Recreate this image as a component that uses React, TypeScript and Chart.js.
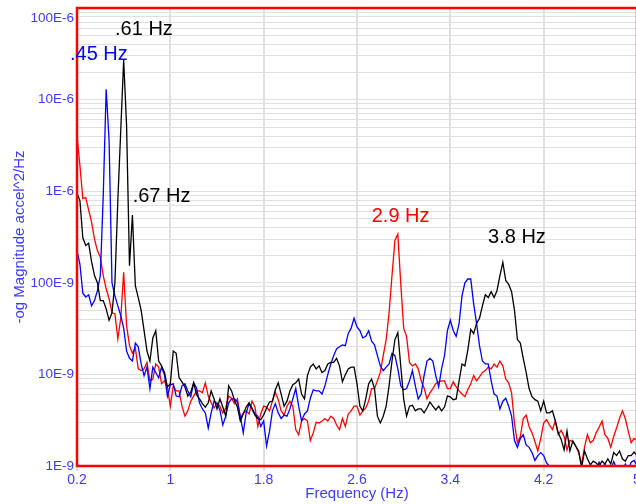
import { useEffect, useRef } from "react";
import { Chart, registerables } from "chart.js";

Chart.register(...registerables);

const freqHz = [
  0.2, 0.225, 0.25, 0.275, 0.3, 0.325, 0.35, 0.375, 0.4, 0.425,
  0.45, 0.475, 0.5, 0.525, 0.55, 0.575, 0.6, 0.625, 0.65, 0.675,
  0.7, 0.725, 0.75, 0.775, 0.8, 0.825, 0.85, 0.875, 0.9, 0.925,
  0.95, 0.975, 1, 1.025, 1.05, 1.075, 1.1, 1.125, 1.15, 1.175,
  1.2, 1.225, 1.25, 1.275, 1.3, 1.325, 1.35, 1.375, 1.4, 1.425,
  1.45, 1.475, 1.5, 1.525, 1.55, 1.575, 1.6, 1.625, 1.65, 1.675,
  1.7, 1.725, 1.75, 1.775, 1.8, 1.825, 1.85, 1.875, 1.9, 1.925,
  1.95, 1.975, 2, 2.025, 2.05, 2.075, 2.1, 2.125, 2.15, 2.175,
  2.2, 2.225, 2.25, 2.275, 2.3, 2.325, 2.35, 2.375, 2.4, 2.425,
  2.45, 2.475, 2.5, 2.525, 2.55, 2.575, 2.6, 2.625, 2.65, 2.675,
  2.7, 2.725, 2.75, 2.775, 2.8, 2.825, 2.85, 2.875, 2.9, 2.925,
  2.95, 2.975, 3, 3.025, 3.05, 3.075, 3.1, 3.125, 3.15, 3.175,
  3.2, 3.225, 3.25, 3.275, 3.3, 3.325, 3.35, 3.375, 3.4, 3.425,
  3.45, 3.475, 3.5, 3.525, 3.55, 3.575, 3.6, 3.625, 3.65, 3.675,
  3.7, 3.725, 3.75, 3.775, 3.8, 3.825, 3.85, 3.875, 3.9, 3.925,
  3.95, 3.975, 4, 4.025, 4.05, 4.075, 4.1, 4.125, 4.15, 4.175,
  4.2, 4.225, 4.25, 4.275, 4.3, 4.325, 4.35, 4.375, 4.4, 4.425,
  4.45, 4.475, 4.5, 4.525, 4.55, 4.575, 4.6, 4.625, 4.65, 4.675,
  4.7, 4.725, 4.75, 4.775, 4.8, 4.825, 4.85, 4.875, 4.9, 4.925,
  4.95, 4.975, 5,
];

const blueSeries = [
  2.25e-7, 1.6e-7, 7.7e-8, 7e-8, 7.4e-8, 5.6e-8, 6.4e-8, 8.2e-8, 1.2e-7, 9e-7,
  1.3e-5, 3.6e-6, 1e-7, 7.2e-8, 5.6e-8, 4.4e-8, 3.2e-8, 1.8e-8, 1.5e-8, 1.4e-8,
  2.2e-8, 2e-8, 1.3e-8, 9.7e-9, 1.2e-8, 7e-9, 1.2e-8, 1.05e-8, 9.2e-9, 1.2e-8,
  9.9e-9, 5.8e-9, 7.7e-9, 7.9e-9, 5.8e-9, 5.7e-9, 7.5e-9, 7.9e-9, 6.6e-9, 5.7e-9,
  8.1e-9, 7.1e-9, 4.9e-9, 4.2e-9, 3.8e-9, 2.6e-9, 3.8e-9, 5.1e-9, 4.8e-9, 4.1e-9,
  2.8e-9, 3.5e-9, 4.9e-9, 5.4e-9, 5.4e-9, 5e-9, 3.5e-9, 2.3e-9, 3.8e-9, 4.8e-9,
  4.3e-9, 3.7e-9, 3.5e-9, 2.7e-9, 3.1e-9, 1.65e-9, 2.4e-9, 4e-9, 4.8e-9, 3.8e-9,
  3.3e-9, 3.6e-9, 3.5e-9, 4.2e-9, 5.4e-9, 7e-9, 4.5e-9, 3.1e-9, 3.7e-9, 4e-9,
  5.5e-9, 6.8e-9, 6.6e-9, 6.6e-9, 6.1e-9, 7.5e-9, 1e-8, 1.3e-8, 1.6e-8, 1.9e-8,
  2e-8, 2.1e-8, 2.06e-8, 2.8e-8, 3.2e-8, 4.1e-8, 3.3e-8, 3e-8, 2.5e-8, 2.6e-8,
  3e-8, 2.3e-8, 2.1e-8, 1.6e-8, 1.24e-8, 1.1e-8, 1.2e-8, 1.3e-8, 1.7e-8, 1.6e-8,
  1.15e-8, 7.5e-9, 6.8e-9, 7e-9, 8.5e-9, 1.1e-8, 7.5e-9, 5.4e-9, 6.1e-9, 9.7e-9,
  1.4e-8, 1.5e-8, 1.4e-8, 9.7e-9, 7.3e-9, 1.15e-8, 1.6e-8, 3e-8, 3.9e-8, 3e-8,
  2.6e-8, 3.6e-8, 7.2e-8, 1e-7, 1.1e-7, 1.1e-7, 5.9e-8, 3.6e-8, 2.06e-8, 1.4e-8,
  1.3e-8, 1.3e-8, 8.5e-9, 6.1e-9, 5.8e-9, 4.2e-9, 5.1e-9, 5.5e-9, 4.5e-9, 3.5e-9,
  1.9e-9, 1.6e-9, 2e-9, 2.2e-9, 1.7e-9, 1.6e-9, 1.4e-9, 1.15e-9, 1.3e-9, 1.4e-9,
  1.3e-9, 1.08e-9, 1e-9, 9.5e-10, 9.7e-10, 8.5e-10, 9e-10, 8e-10, 9.5e-10, 8e-10,
  8.5e-10, 7.5e-10, 8e-10, 9e-10, 8e-10, 7.5e-10, 8.5e-10, 8e-10, 9e-10, 1.1e-9,
  9.5e-10, 1.05e-9, 8.5e-10, 9e-10, 1.12e-9, 9.5e-10, 8.5e-10, 9e-10, 1.05e-9, 9e-10,
  1.1e-9, 1.15e-9, 1e-9,
];

const blackSeries = [
  9.5e-7, 7.9e-7, 3.1e-7, 2.55e-7, 2.7e-7, 1.7e-7, 1.2e-7, 1e-7, 6.4e-8, 6.4e-8,
  5.2e-8, 3.9e-8, 4.7e-8, 1e-7, 7.9e-7, 4.6e-6, 2.7e-5, 5.2e-6, 1.54e-7, 5.5e-7,
  9.3e-8, 6.9e-8, 5e-8, 3e-8, 1.8e-8, 1.4e-8, 2.5e-8, 3e-8, 1.4e-8, 1.24e-8,
  1.05e-8, 7.3e-9, 7.9e-9, 1.8e-8, 1.7e-8, 9.2e-9, 8.3e-9, 7.3e-9, 5.8e-9, 6.4e-9,
  8.1e-9, 6e-9, 5.4e-9, 4.8e-9, 4.4e-9, 4.9e-9, 6.6e-9, 5.4e-9, 4.2e-9, 5.4e-9,
  4.4e-9, 3.5e-9, 7.5e-9, 6.6e-9, 5.2e-9, 4.4e-9, 3.1e-9, 3.7e-9, 4.4e-9, 4.9e-9,
  4.2e-9, 3.6e-9, 3.3e-9, 3.2e-9, 3.6e-9, 4.3e-9, 5e-9, 5.1e-9, 6.8e-9, 8.1e-9,
  6.1e-9, 4.5e-9, 5.1e-9, 6.6e-9, 7.7e-9, 8.1e-9, 8.9e-9, 6.1e-9, 5.4e-9, 9.7e-9,
  1.2e-8, 1.3e-8, 1.15e-8, 1.24e-8, 1.05e-8, 1.1e-8, 1.3e-8, 1.35e-8, 1.35e-8, 1.5e-8,
  1.24e-8, 8.3e-9, 9.9e-9, 1.15e-8, 1.2e-8, 1.2e-8, 7.9e-9, 4.5e-9, 4e-9, 5.4e-9,
  7.9e-9, 8.9e-9, 7e-9, 3.5e-9, 2.95e-9, 3.5e-9, 4.5e-9, 7.5e-9, 1.4e-8, 2.4e-8,
  2.85e-8, 1.24e-8, 5.4e-9, 3.5e-9, 4.5e-9, 4.6e-9, 4e-9, 4.2e-9, 4.2e-9, 3.8e-9,
  4.3e-9, 5e-9, 4.5e-9, 4.1e-9, 4.5e-9, 4e-9, 4.4e-9, 5.8e-9, 5.7e-9, 5.3e-9,
  5.4e-9, 8.5e-9, 1.3e-8, 1.24e-8, 1.85e-8, 3.1e-8, 2.8e-8, 3.6e-8, 4.1e-8, 5.6e-8,
  7.4e-8, 6.9e-8, 8e-8, 6.9e-8, 8.2e-8, 1.2e-7, 1.67e-7, 1.06e-7, 9.6e-8, 8e-8,
  5e-8, 2.4e-8, 2.2e-8, 1.5e-8, 1.05e-8, 7e-9, 5.7e-9, 5.3e-9, 5.1e-9, 4e-9,
  5.1e-9, 3.8e-9, 3.8e-9, 4e-9, 3.1e-9, 2.3e-9, 1.95e-9, 1.5e-9, 2.4e-9, 1.46e-9,
  1.88e-9, 1.65e-9, 1.46e-9, 9.5e-10, 1.46e-9, 1.2e-9, 1.03e-9, 1.13e-9, 1.08e-9, 1e-9,
  1.13e-9, 1.05e-9, 1.2e-9, 1.05e-9, 1.4e-9, 1.3e-9, 1.46e-9, 1.2e-9, 1.13e-9, 1.3e-9,
  1.3e-9, 1.42e-9, 1.3e-9,
];

const redSeries = [
  4.1e-6, 1.9e-6, 8.3e-7, 8.5e-7, 6.2e-7, 4.6e-7, 3e-7, 2.25e-7, 1.9e-7, 1.2e-7,
  8.6e-8, 6.7e-8, 4.7e-8, 4.6e-8, 2.45e-8, 4.1e-8, 1.3e-7, 3.4e-8, 2.06e-8, 1.7e-8,
  1.95e-8, 1.15e-8, 1.1e-8, 1.15e-8, 1.35e-8, 8.5e-9, 8.9e-9, 1.3e-8, 1.2e-8, 7.9e-9,
  8.5e-9, 7.1e-9, 4.5e-9, 7.5e-9, 6.6e-9, 6.6e-9, 4.5e-9, 3.5e-9, 4e-9, 5.1e-9,
  5.8e-9, 6.6e-9, 6.6e-9, 6.3e-9, 8.1e-9, 5.8e-9, 4.9e-9, 4.3e-9, 4.9e-9, 4.5e-9,
  3.8e-9, 4.3e-9, 5.8e-9, 5.5e-9, 4.8e-9, 5.4e-9, 3.3e-9, 3.8e-9, 4e-9, 3.7e-9,
  5.1e-9, 4.4e-9, 2.7e-9, 3.7e-9, 4.5e-9, 4.4e-9, 4e-9, 5.1e-9, 6.4e-9, 5.3e-9,
  4e-9, 3.6e-9, 4.5e-9, 5.1e-9, 4.5e-9, 2.5e-9, 2.2e-9, 3.1e-9, 3.3e-9, 3.1e-9,
  1.9e-9, 2.3e-9, 3e-9, 2.95e-9, 3.1e-9, 3.3e-9, 3.1e-9, 3.5e-9, 3.3e-9, 2.8e-9,
  2.5e-9, 3.3e-9, 2.7e-9, 3.7e-9, 4e-9, 4.5e-9, 4.5e-9, 3.6e-9, 4e-9, 4.3e-9,
  5.1e-9, 7e-9, 7e-9, 8.5e-9, 1.05e-8, 1.6e-8, 2.4e-8, 4.7e-8, 1.2e-7, 2.9e-7,
  3.4e-7, 9.8e-8, 3.2e-8, 2.6e-8, 1.35e-8, 1.24e-8, 1.3e-8, 1.15e-8, 8.5e-9, 7.1e-9,
  5.4e-9, 6.3e-9, 7e-9, 7.9e-9, 8.3e-9, 8.5e-9, 8.5e-9, 7e-9, 7e-9, 8.3e-9,
  7.3e-9, 6.6e-9, 6.1e-9, 5.7e-9, 6.8e-9, 7.9e-9, 9.7e-9, 8.5e-9, 9.4e-9, 1.05e-8,
  1.1e-8, 1.2e-8, 1.15e-8, 1.3e-8, 1.2e-8, 1.4e-8, 1.24e-8, 8.9e-9, 8.1e-9, 6.3e-9,
  2.9e-9, 1.8e-9, 2.1e-9, 3.3e-9, 3.6e-9, 2.7e-9, 2.3e-9, 1.85e-9, 1.46e-9, 2e-9,
  2.95e-9, 3.2e-9, 2.8e-9, 2.5e-9, 3.1e-9, 2.2e-9, 2.45e-9, 2.1e-9, 1.5e-9, 1.9e-9,
  1.85e-9, 1.65e-9, 1.4e-9, 1.05e-9, 1.6e-9, 2.2e-9, 1.8e-9, 1.9e-9, 2.3e-9, 2.65e-9,
  3.1e-9, 2.2e-9, 2e-9, 1.6e-9, 2.1e-9, 2.6e-9, 3.3e-9, 4e-9, 3.3e-9, 2.4e-9,
  1.8e-9, 2e-9, 1.9e-9,
];

const xTickValues = [0.2, 1, 1.8, 2.6, 3.4, 4.2, 5];
const xTickLabels = ["0.2", "1", "1.8", "2.6", "3.4", "4.2", "5"];
const yTickValues = [1e-9, 1e-8, 1e-7, 1e-6, 1e-5, 1e-4];
const yTickLabels = ["1E-9", "10E-9", "100E-9", "1E-6", "10E-6", "100E-6"];
const yMinorMultipliers = [1, 2, 3, 4, 5, 6, 7, 8, 9];

const peakLabels = [
  { text: ".45 Hz", x: 0.14, y: 2.7e-5, color: "#0000ff" },
  { text: ".61 Hz", x: 0.526, y: 5.1e-5, color: "#000000" },
  { text: ".67 Hz", x: 0.677, y: 7.6e-7, color: "#000000" },
  { text: "2.9 Hz", x: 2.726, y: 4.6e-7, color: "#ff0000" },
  { text: "3.8 Hz", x: 3.723, y: 2.7e-7, color: "#000000" },
];

const FONT = '"Liberation Sans", Arial, Helvetica, sans-serif';
const AXIS_BLUE = "#3c3cff";
const GRID = "#e0e0e0";

const framePlugin = {
  id: "framePlugin",
  afterDatasetsDraw(chart: any) {
    const { ctx, chartArea, scales } = chart;
    ctx.save();
    ctx.strokeStyle = "#ff0000";
    ctx.lineWidth = 2.5;
    ctx.strokeRect(
      chartArea.left,
      chartArea.top,
      chartArea.right - chartArea.left,
      chartArea.bottom - chartArea.top
    );
    ctx.font = `13.5px ${FONT}`;
    ctx.fillStyle = AXIS_BLUE;
    ctx.textAlign = "right";
    ctx.textBaseline = "middle";
    yTickValues.forEach((v, i) => {
      let y = scales.y.getPixelForValue(v);
      y = Math.max(y, chartArea.top + 10);
      ctx.fillText(yTickLabels[i], chartArea.left - 3, y);
    });
    ctx.font = `20px ${FONT}`;
    ctx.textAlign = "left";
    ctx.textBaseline = "alphabetic";
    for (const p of peakLabels) {
      ctx.fillStyle = p.color;
      ctx.fillText(p.text, scales.x.getPixelForValue(p.x), scales.y.getPixelForValue(p.y));
    }
    ctx.restore();
  },
};

function series(values: number[]) {
  return freqHz.map((f, i) => ({ x: f, y: values[i] }));
}

export default function App() {
  const canvasRef = useRef<HTMLCanvasElement | null>(null);

  useEffect(() => {
    if (!canvasRef.current) return;
    const chart = new Chart(canvasRef.current, {
      type: "line",
      data: {
        datasets: [
          { label: "black", data: series(blackSeries), borderColor: "#000000" },
          { label: "blue", data: series(blueSeries), borderColor: "#0000ff" },
          { label: "red", data: series(redSeries), borderColor: "#ff0000" },
        ],
      },
      options: {
        animation: false,
        responsive: false,
        maintainAspectRatio: false,
        parsing: false as any,
        normalized: true,
        layout: { padding: { top: 8, right: 23, left: 0, bottom: 0 } },
        elements: {
          point: { radius: 0 },
          line: { borderWidth: 1.3, tension: 0 },
        },
        plugins: {
          legend: { display: false },
          tooltip: { enabled: false },
        },
        scales: {
          x: {
            type: "linear",
            min: 0.2,
            max: 5,
            afterBuildTicks: (s: any) => {
              s.ticks = xTickValues.map((v) => ({ value: v }));
            },
            afterFit: (s: any) => {
              s.height = 38;
            },
            ticks: {
              color: AXIS_BLUE,
              font: { family: FONT, size: 14 },
              padding: 1,
              autoSkip: false,
              maxRotation: 0,
              callback: (_v: any, i: number) => xTickLabels[i],
            },
            grid: { color: GRID, lineWidth: 2, tickLength: 5, tickColor: GRID },
            border: { display: false },
            title: {
              display: true,
              text: "Frequency (Hz)",
              color: AXIS_BLUE,
              font: { family: FONT, size: 15 },
              padding: { top: 0, bottom: 1 },
            },
          },
          y: {
            type: "logarithmic",
            min: 1e-9,
            max: 1e-4,
            afterBuildTicks: (s: any) => {
              const t: { value: number }[] = [];
              for (let d = 0; d < yTickValues.length - 1; d++) {
                for (const m of yMinorMultipliers) t.push({ value: yTickValues[d] * m });
              }
              t.push({ value: yTickValues[yTickValues.length - 1] });
              s.ticks = t;
            },
            afterFit: (s: any) => {
              s.width = 77;
            },
            ticks: { display: false },
            grid: { color: GRID, lineWidth: 1, drawTicks: false },
            border: { display: false },
            title: {
              display: true,
              text: "-og Magnitude accel^2/Hz",
              color: AXIS_BLUE,
              font: { family: FONT, size: 15 },
              padding: { top: 11, bottom: 0 },
            },
          },
        },
      },
      plugins: [framePlugin],
    });
    return () => chart.destroy();
  }, []);

  return (
    <div
      style={{
        position: "fixed",
        left: 0,
        top: 0,
        width: 636,
        height: 504,
        overflow: "hidden",
        background: "#ffffff",
      }}
    >
      <canvas ref={canvasRef} width={660} height={504} style={{ width: 660, height: 504, display: "block" }} />
    </div>
  );
}
